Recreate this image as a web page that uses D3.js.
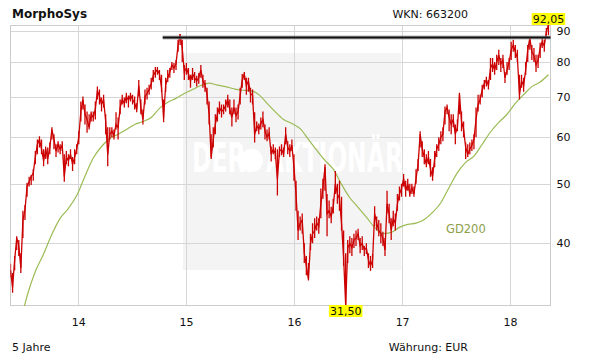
<!DOCTYPE html>
<html>
<head>
<meta charset="utf-8">
<script src="https://cdn.jsdelivr.net/npm/d3@7"></script>
<style>
  body { margin: 0; background: #fff; }
  svg text { font-family: "DejaVu Sans", Verdana, sans-serif; }
</style>
</head>
<body>
<svg width="611" height="364"></svg>
<script>
// weekly values, first week 2013-05-17
const firstWeek = '2013-05-17';
const lastDay = '2018-05-18';
const prices = [
  36.0, 33.7, 37.4, 40.7, 39.5, 36.3, 43.6, 45.3, 49.6, 50.5,
  51.5, 52.2, 55.5, 58.3, 59.4, 57.2, 54.7, 57.2, 55.1, 57.6,
  61.7, 59.4, 56.8, 58.3, 57.2, 58.1, 51.5, 55.5, 54.7, 56.1,
  54.0, 55.5, 57.2, 59.9, 66.1, 69.2, 65.4, 64.1, 62.2, 65.4,
  64.6, 66.6, 71.6, 70.0, 67.9, 69.2, 63.6, 56.0, 60.6, 61.3,
  60.3, 62.9, 62.2, 67.1, 69.2, 68.2, 70.0, 69.0, 70.3, 69.2,
  68.2, 66.6, 73.0, 67.1, 64.1, 70.0, 70.8, 71.9, 73.5, 75.8,
  76.9, 77.5, 76.3, 72.4, 64.5, 73.2, 75.2, 76.9, 79.0, 78.1,
  79.3, 85.3, 88.9, 84.3, 76.9, 78.1, 76.3, 74.3, 76.3, 75.2,
  74.3, 75.2, 77.5, 74.3, 73.2, 70.5, 65.4, 55.5, 59.4, 62.9,
  65.4, 67.1, 66.1, 66.6, 67.6, 69.2, 66.6, 64.6, 67.1, 65.1,
  66.1, 70.3, 74.6, 76.3, 73.0, 74.3, 70.8, 70.3, 60.5, 62.6,
  61.7, 63.1, 64.1, 61.3, 59.9, 60.8, 56.1, 57.2, 56.3, 51.0,
  56.8, 57.2, 56.1, 60.6, 57.6, 56.8, 58.1, 53.4, 48.2, 41.9,
  43.1, 43.6, 38.4, 36.6, 34.8, 39.9, 41.4, 41.9, 43.1, 42.6,
  46.4, 49.2, 53.5, 44.7, 45.2, 44.2, 45.9, 50.1, 48.2, 47.3,
  43.1, 37.7, 31.5, 39.2, 39.9, 39.2, 40.4, 40.7, 41.4, 39.5,
  39.9, 38.9, 39.2, 37.4, 36.6, 37.4, 44.7, 43.1, 41.9, 41.4,
  40.7, 38.9, 46.4, 44.7, 41.9, 43.9, 43.1, 46.4, 48.2, 49.2,
  51.1, 48.8, 50.1, 48.2, 49.4, 48.2, 51.1, 54.0, 60.6, 57.2,
  55.5, 54.0, 55.5, 53.0, 51.5, 55.1, 57.2, 58.3, 59.9, 60.6,
  66.1, 67.1, 64.6, 62.9, 64.1, 60.6, 62.2, 70.5, 63.6, 61.7,
  57.6, 56.1, 57.2, 58.1, 59.4, 64.1, 67.9, 69.2, 71.9, 73.5,
  74.6, 73.0, 78.1, 79.3, 77.5, 79.8, 82.1, 79.3, 80.5, 75.2,
  77.5, 79.8, 83.7, 85.3, 83.1, 81.1, 70.5, 74.3, 73.0, 77.5,
  83.7, 87.5, 83.1, 81.8, 79.0, 80.5, 84.3, 86.3, 85.0, 89.7,
  92.05
];
const weekHigh = [
  36.9, 35.6, 38.0, 41.0, 40.4, 38.4, 45.2, 46.2, 50.3, 51.5,
  51.8, 53.0, 56.8, 59.4, 60.1, 59.4, 57.2, 57.8, 57.6, 58.7,
  62.2, 60.6, 58.3, 59.0, 58.3, 59.0, 56.1, 56.8, 56.1, 57.2,
  55.5, 57.2, 58.3, 61.3, 68.7, 70.0, 67.9, 66.1, 65.4, 66.1,
  66.1, 68.7, 72.7, 71.9, 69.7, 70.5, 65.4, 62.2, 62.2, 62.2,
  61.7, 65.9, 64.6, 69.2, 70.5, 69.7, 71.0, 70.3, 71.0, 70.5,
  70.0, 68.2, 74.6, 69.2, 66.6, 71.9, 72.4, 73.2, 75.2, 77.5,
  78.4, 78.4, 77.5, 76.1, 69.2, 75.2, 77.5, 78.1, 79.9, 79.6,
  80.5, 87.0, 88.9, 87.0, 79.0, 79.6, 78.1, 76.1, 78.1, 76.9,
  75.8, 76.6, 79.0, 76.1, 74.6, 72.4, 68.7, 60.6, 62.2, 65.4,
  67.1, 68.7, 67.9, 67.9, 69.2, 70.5, 69.2, 67.1, 69.2, 67.1,
  67.9, 72.4, 76.3, 76.9, 75.2, 75.2, 72.4, 71.9, 65.9, 63.6,
  63.1, 64.6, 66.1, 62.9, 61.7, 62.2, 57.8, 58.3, 57.6, 57.2,
  57.8, 58.3, 57.6, 62.2, 59.0, 58.3, 59.4, 56.1, 50.7, 45.2,
  44.2, 44.7, 39.9, 38.0, 37.0, 41.4, 43.1, 43.9, 44.2, 43.9,
  49.2, 51.1, 54.0, 48.2, 47.0, 45.9, 47.3, 52.6, 50.1, 50.7,
  47.7, 41.9, 38.4, 40.4, 41.0, 40.7, 41.4, 41.9, 42.2, 40.7,
  41.0, 39.5, 39.9, 38.4, 38.0, 38.3, 46.0, 44.2, 43.6, 43.1,
  41.7, 40.7, 48.8, 46.4, 43.9, 45.2, 44.7, 48.2, 49.6, 50.1,
  52.0, 50.7, 51.1, 50.1, 50.1, 49.6, 53.0, 55.1, 61.3, 59.0,
  57.2, 56.1, 56.8, 55.1, 53.4, 56.8, 58.3, 59.9, 61.3, 62.2,
  67.4, 67.9, 66.6, 65.4, 65.4, 62.9, 64.1, 71.0, 66.1, 63.6,
  58.7, 58.3, 58.7, 59.4, 60.6, 67.1, 70.5, 70.5, 73.2, 74.6,
  75.5, 74.6, 81.1, 81.1, 79.9, 82.1, 83.7, 81.1, 82.1, 76.9,
  79.9, 81.1, 86.3, 87.0, 85.3, 83.7, 76.1, 76.1, 75.2, 79.9,
  85.3, 87.6, 85.3, 84.3, 82.1, 82.1, 86.0, 87.9, 87.0, 91.0,
  92.05
];
const weekLow = [
  35.0, 33.0, 36.0, 38.9, 38.0, 35.6, 40.7, 43.6, 47.7, 49.6,
  49.9, 50.7, 54.0, 56.1, 57.6, 56.1, 53.6, 55.1, 54.0, 56.1,
  59.4, 57.2, 55.5, 56.5, 56.1, 56.8, 50.5, 54.0, 53.6, 55.1,
  52.6, 54.0, 56.1, 58.3, 63.6, 66.6, 62.9, 60.9, 61.7, 63.6,
  63.6, 64.1, 69.2, 67.9, 66.1, 67.1, 60.6, 53.6, 59.4, 59.9,
  59.4, 61.7, 59.4, 65.4, 67.9, 67.1, 68.2, 67.1, 68.7, 67.9,
  66.6, 65.9, 70.0, 65.4, 62.9, 67.9, 69.2, 70.5, 71.9, 74.0,
  75.2, 76.1, 74.6, 71.3, 63.4, 71.3, 74.0, 75.2, 77.5, 76.6,
  77.5, 83.1, 85.3, 79.9, 74.6, 76.1, 74.6, 72.4, 74.6, 73.7,
  72.7, 73.5, 75.2, 72.4, 71.3, 67.9, 62.9, 55.1, 57.6, 60.6,
  63.6, 65.4, 64.6, 65.4, 66.1, 67.1, 65.4, 62.4, 65.4, 63.4,
  64.1, 67.9, 72.4, 74.6, 70.5, 71.3, 68.4, 67.9, 58.7, 61.3,
  60.6, 61.7, 62.2, 59.4, 59.0, 59.4, 54.6, 56.1, 55.1, 47.9,
  55.5, 55.9, 55.5, 58.3, 56.1, 55.5, 56.8, 50.7, 45.2, 40.4,
  41.9, 41.4, 37.0, 35.3, 34.6, 38.9, 39.9, 40.7, 41.9, 41.4,
  43.9, 47.3, 48.8, 41.0, 43.9, 43.1, 44.7, 48.2, 46.4, 45.2,
  41.9, 36.6, 31.5, 37.0, 38.4, 38.0, 39.2, 39.5, 40.4, 38.4,
  38.9, 38.0, 38.3, 36.3, 35.9, 36.3, 42.6, 41.9, 41.0, 39.9,
  39.5, 38.0, 44.7, 43.1, 40.4, 42.6, 41.9, 45.2, 47.0, 47.7,
  49.6, 47.7, 48.8, 47.7, 48.2, 47.7, 50.1, 52.6, 57.6, 55.5,
  54.0, 53.4, 54.0, 51.5, 50.7, 53.4, 55.5, 56.8, 58.3, 59.0,
  62.9, 65.4, 61.3, 60.6, 62.2, 58.3, 61.3, 65.4, 61.3, 59.9,
  55.1, 55.5, 56.1, 56.8, 57.2, 59.9, 66.1, 67.9, 69.7, 71.9,
  72.7, 71.9, 74.6, 76.9, 76.1, 77.5, 79.0, 76.9, 78.1, 73.7,
  76.1, 77.5, 80.5, 83.1, 81.1, 79.9, 69.2, 72.4, 71.3, 76.1,
  79.9, 83.7, 80.5, 79.9, 76.9, 78.1, 81.1, 84.3, 83.1, 87.6,
  88.6
];
// 200-day average, one value every 4 weeks
const gd200 = [
  26.0, 28.7, 32.6, 35.8, 38.3, 41.3, 43.9, 45.6, 47.9, 51.6,
  55.3, 57.8, 59.6, 60.6, 61.7, 62.9, 63.6, 64.6, 66.9, 68.5,
  69.5, 70.8, 71.9, 73.0, 73.7, 73.1, 72.7, 72.1, 71.7, 71.6,
  70.5, 68.2, 66.0, 64.1, 63.1, 61.9, 59.4, 57.0, 54.8, 53.0,
  50.0, 47.5, 45.8, 44.1, 42.4, 41.4, 41.6, 42.4, 42.9, 43.1,
  43.7, 44.9, 46.6, 49.4, 52.3, 54.4, 55.7, 58.3, 61.1, 63.4,
  65.4, 68.2, 70.5, 72.7, 74.0, 76.1
];
const yTicks = [40, 50, 60, 70, 80, 90];
const years = ['14', '15', '16', '17', '18'];
const resistance = 88.0;
const resistanceFrom = '2014-10-14';

const svg = d3.select('svg');
const width = +svg.attr('width');
const height = +svg.attr('height');
const plotL = 10.5, plotR = 550.5, plotT = 25.5, plotB = 305.5;

const parse = d3.timeParse('%Y-%m-%d');
const start = parse(firstWeek);
const points = prices.map((v, i) => ({
  date: d3.timeDay.offset(start, i * 7), value: v, hi: weekHigh[i], lo: weekLow[i]
}));
const avg = gd200.map((v, i) => ({ date: d3.timeDay.offset(start, i * 28), value: v }));
const yearDates = years.map(s => new Date(2000 + +s, 0, 1));

const x = d3.scaleTime().domain([start, parse(lastDay)]).range([plotL, plotR]);
const y = d3.scaleLog().domain(d3.extent(prices)).range([plotB - 0.5, plotT - 0.5]);

svg.append('defs').append('clipPath').attr('id', 'plot')
  .append('rect').attr('x', plotL).attr('y', plotT - 1.5)
  .attr('width', plotR - plotL).attr('height', plotB - plotT + 2);

// watermark
svg.append('rect').attr('x', 183).attr('y', 53).attr('width', 218).attr('height', 217)
  .attr('fill', '#f4f4f4');

// grid
svg.append('g').selectAll('line').data(yTicks).join('line')
  .attr('x1', plotL).attr('x2', plotR)
  .attr('y1', d => Math.round(y(d)) + 0.5).attr('y2', d => Math.round(y(d)) + 0.5)
  .attr('stroke', '#d6d6d6');
svg.append('g').selectAll('line').data(yearDates).join('line')
  .attr('x1', d => Math.round(x(d)) + 0.5).attr('x2', d => Math.round(x(d)) + 0.5)
  .attr('y1', plotT).attr('y2', plotB)
  .attr('stroke', '#d6d6d6');

const wm = svg.append('g').attr('fill', '#ffffff');
wm.append('circle').attr('cx', 251.5).attr('cy', 160.5).attr('r', 11.5);
const wmText = wm.append('g').attr('transform', 'translate(0,172) scale(1,1.75)')
  .style('font-weight', 'bold').style('font-size', '23.5px')
  .style('font-family', '"DejaVu Sans Condensed", "DejaVu Sans", sans-serif');
wmText.append('text').attr('x', 192).attr('y', 0).text('DER');
wmText.append('text').attr('x', 266).attr('y', 0).text('AKTIONÄR');

// frame
svg.append('rect').attr('x', plotL).attr('y', plotT)
  .attr('width', plotR - plotL).attr('height', plotB - plotT)
  .attr('fill', 'none').attr('stroke', '#cccccc');

const plot = svg.append('g').attr('clip-path', 'url(#plot)');

plot.append('path').datum(avg)
  .attr('fill', 'none').attr('stroke', '#9cbb55').attr('stroke-width', 1.2)
  .attr('d', d3.line().x(d => x(d.date)).y(d => y(d.value)).curve(d3.curveMonotoneX));

// weekly ranges + closing line
plot.append('g').selectAll('line').data(points).join('line')
  .attr('x1', d => x(d.date)).attr('x2', d => x(d.date))
  .attr('y1', d => y(d.hi)).attr('y2', d => y(d.lo))
  .attr('stroke', '#cc0000').attr('stroke-width', 1.3);
plot.append('path').datum(points)
  .attr('fill', 'none').attr('stroke', '#cc0000').attr('stroke-width', 1.3)
  .attr('d', d3.line().x(d => x(d.date)).y(d => y(d.value)));

// resistance line
const rx = x(parse(resistanceFrom));
const ry = Math.round(y(resistance)) + 0.5;
svg.append('line').attr('x1', rx).attr('x2', plotR).attr('y1', ry).attr('y2', ry)
  .attr('stroke', '#999').attr('stroke-width', 4).attr('opacity', 0.7);
svg.append('line').attr('x1', rx).attr('x2', plotR).attr('y1', ry).attr('y2', ry)
  .attr('stroke', '#111').attr('stroke-width', 2);

svg.append('text').attr('x', 446).attr('y', 233).text('GD200')
  .attr('fill', '#8da04a').style('font-size', '11.5px');

// axes
const yAxis = svg.append('g').attr('transform', `translate(${plotR},0)`)
  .call(d3.axisRight(y).tickValues(yTicks).tickFormat(d3.format('d')).tickSize(0).tickPadding(6));
yAxis.select('.domain').remove();
yAxis.selectAll('text').style('font-size', '11px').attr('fill', '#111')
  .style('font-family', '"DejaVu Sans", Verdana, sans-serif');

const xAxis = svg.append('g').attr('transform', `translate(0,${plotB - 0.5})`)
  .call(d3.axisBottom(x).tickValues(yearDates).tickFormat(d3.timeFormat('%y')).tickSize(0).tickPadding(13));
xAxis.select('.domain').remove();
xAxis.selectAll('text').style('font-size', '11px').attr('fill', '#111')
  .style('font-family', '"DejaVu Sans", Verdana, sans-serif');

// min / max markers
const fmt = v => d3.format('.2f')(v).replace('.', ',');
const hi = points[d3.maxIndex(points, d => d.value)];
const lo = points[d3.minIndex(points, d => d.value)];
function badge(p, baseline, boxTop) {
  const g = svg.append('g');
  const t = g.append('text').attr('x', x(p.date)).attr('y', baseline)
    .attr('text-anchor', 'middle').style('font-size', '11px').attr('fill', '#111')
    .text(fmt(p.value));
  const b = t.node().getBBox();
  g.insert('rect', 'text').attr('x', b.x - 1).attr('y', boxTop)
    .attr('width', b.width + 2).attr('height', 12).attr('fill', '#ffff00');
}
badge(hi, 23, 13);
badge(lo, 315, 305);

// header / footer
svg.append('text').attr('x', 12).attr('y', 18).text('MorphoSys')
  .style('font-weight', 'bold').style('font-size', '12px').attr('fill', '#111');
svg.append('text').attr('x', 468).attr('y', 18).attr('text-anchor', 'end')
  .text('WKN: 663200').style('font-size', '11px').attr('fill', '#111');
svg.append('text').attr('x', 12).attr('y', 351).text('5 Jahre')
  .style('font-size', '11px').attr('fill', '#111');
svg.append('text').attr('x', 468).attr('y', 351).attr('text-anchor', 'end')
  .text('Währung: EUR').style('font-size', '11px').attr('fill', '#111');
</script>
</body>
</html>
